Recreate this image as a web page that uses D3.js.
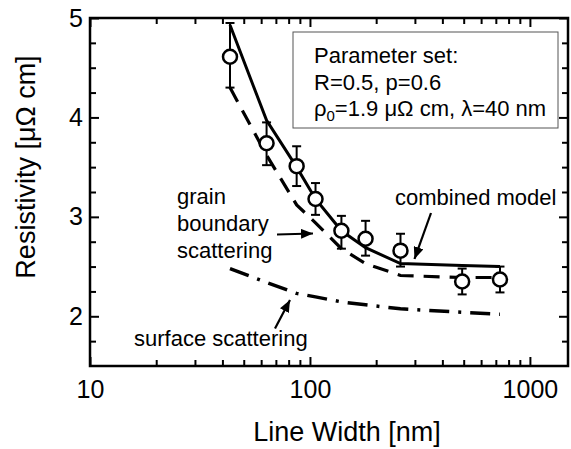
<!DOCTYPE html>
<html>
<head>
<meta charset="utf-8">
<script src="https://cdn.jsdelivr.net/npm/d3@7"></script>
<style>
  html, body { margin: 0; padding: 0; background: #fff; }
  svg { display: block; font-family: "Liberation Sans", Arial, sans-serif; }
</style>
</head>
<body>
<svg id="chart" width="571" height="449"></svg>
<script>
// ---- data ----
const widths        = [43.3, 63.5, 87, 106, 139, 179, 258, 492, 731];          // nm
const measured      = [4.61, 3.74, 3.51, 3.18, 2.86, 2.78, 2.66, 2.35, 2.37];  // µΩ cm
const errLow        = [4.30, 3.52, 3.31, 3.02, 2.68, 2.61, 2.50, 2.22, 2.24];
const errHigh       = [4.95, 3.95, 3.71, 3.34, 3.01, 2.96, 2.83, 2.48, 2.50];
const combined      = [4.93, 3.97, 3.50, 3.18, 2.86, 2.69, 2.53, 2.51, 2.50];
const grainBoundary = [4.30, 3.62, 3.12, 2.94, 2.68, 2.53, 2.41, 2.39, 2.39];
const surface       = [2.48, 2.34, 2.23, 2.195, 2.145, 2.115, 2.075, 2.04, 2.02];

const xMajorTicks = [10, 100, 1000];
const xMinorTicks = [20, 30, 40, 50, 60, 70, 80, 90, 200, 300, 400, 500, 600, 700, 800, 900];
const yMajorTicks = [2, 3, 4, 5];
const yMinorTicks = [1.75, 2.25, 2.5, 2.75, 3.25, 3.5, 3.75, 4.25, 4.5, 4.75];

const xTitle = "Line Width [nm]";
const yTitle = "Resistivity [\u03bc\u03a9 cm]";
const legendLines = ["Parameter set:", "R=0.5, p=0.6"];
const labelCombined = "combined model";
const labelGrain = ["grain", "boundary", "scattering"];
const labelSurface = "surface scattering";

// ---- layout ----
const L = 90, R = 568, T = 18, B = 366;
const svg = d3.select("#chart");

const x = d3.scaleLog().domain([10, 1490]).range([L, R]);
const y = d3.scaleLinear().domain([1.5, 5]).range([B, T]);

// axes (inward ticks)
function styleAxis(g) {
  g.select(".domain").remove();
  g.selectAll("line").attr("stroke", "#000").attr("stroke-width", 2);
  g.selectAll("text").attr("fill", "#000").attr("font-size", 25)
    .attr("font-family", "Liberation Sans, Arial, sans-serif");
}
svg.append("g").attr("transform", `translate(0,${B})`)
  .call(d3.axisBottom(x).tickValues(xMajorTicks).tickSize(-9).tickPadding(14).tickFormat(d3.format("d")))
  .call(styleAxis);
svg.append("g").attr("transform", `translate(0,${B})`)
  .call(d3.axisBottom(x).tickValues(xMinorTicks).tickSize(-6).tickFormat(""))
  .call(styleAxis);
svg.append("g").attr("transform", `translate(0,${T})`)
  .call(d3.axisTop(x).tickValues(xMajorTicks).tickSize(-9).tickFormat(""))
  .call(styleAxis);
svg.append("g").attr("transform", `translate(0,${T})`)
  .call(d3.axisTop(x).tickValues(xMinorTicks).tickSize(-6).tickFormat(""))
  .call(styleAxis);
svg.append("g").attr("transform", `translate(${L},0)`)
  .call(d3.axisLeft(y).tickValues(yMajorTicks).tickSize(-9).tickPadding(7).tickFormat(d3.format("d")))
  .call(styleAxis);
svg.append("g").attr("transform", `translate(${L},0)`)
  .call(d3.axisLeft(y).tickValues(yMinorTicks).tickSize(-6).tickFormat(""))
  .call(styleAxis);
svg.append("g").attr("transform", `translate(${R},0)`)
  .call(d3.axisRight(y).tickValues(yMajorTicks).tickSize(-9).tickFormat(""))
  .call(styleAxis);
svg.append("g").attr("transform", `translate(${R},0)`)
  .call(d3.axisRight(y).tickValues(yMinorTicks).tickSize(-6).tickFormat(""))
  .call(styleAxis);

// frame
svg.append("rect").attr("x", L).attr("y", T).attr("width", R - L).attr("height", B - T)
  .attr("fill", "none").attr("stroke", "#000").attr("stroke-width", 2.5);

// axis titles
svg.append("text").attr("x", 347).attr("y", 441).attr("text-anchor", "middle")
  .attr("font-size", 27).text(xTitle);
svg.append("text").attr("transform", `translate(35,167) rotate(-90)`).attr("text-anchor", "middle")
  .attr("font-size", 27).text(yTitle);

// model curves
const line = d3.line().x(d => x(d[0])).y(d => y(d[1]));
const pts = arr => widths.map((w, i) => [w, arr[i]]);

svg.append("path").attr("d", line(pts(surface))).attr("fill", "none")
  .attr("stroke", "#000").attr("stroke-width", 3.5).attr("stroke-dasharray", "20,9,3,9");
svg.append("path").attr("d", line(pts(grainBoundary))).attr("fill", "none")
  .attr("stroke", "#000").attr("stroke-width", 3.2).attr("stroke-dasharray", "16,10");
svg.append("path").attr("d", line(pts(combined))).attr("fill", "none")
  .attr("stroke", "#000").attr("stroke-width", 3);

// error bars
const eb = svg.append("g").attr("stroke", "#000").attr("stroke-width", 2);
widths.forEach((w, i) => {
  const cx = x(w);
  eb.append("line").attr("x1", cx).attr("x2", cx).attr("y1", y(errLow[i])).attr("y2", y(errHigh[i]));
  eb.append("line").attr("x1", cx - 4.5).attr("x2", cx + 4.5).attr("y1", y(errLow[i])).attr("y2", y(errLow[i]));
  eb.append("line").attr("x1", cx - 4.5).attr("x2", cx + 4.5).attr("y1", y(errHigh[i])).attr("y2", y(errHigh[i]));
});
// data circles
svg.append("g").selectAll("circle").data(pts(measured)).join("circle")
  .attr("cx", d => x(d[0])).attr("cy", d => y(d[1])).attr("r", 7)
  .attr("fill", "#fff").attr("stroke", "#000").attr("stroke-width", 2.5);

// legend box
svg.append("rect").attr("x", 293).attr("y", 32).attr("width", 265).attr("height", 96)
  .attr("fill", "#fff").attr("stroke", "#555").attr("stroke-width", 1);
const lg = svg.append("g").attr("font-size", 22).attr("fill", "#000");
lg.append("text").attr("x", 314).attr("y", 63).text(legendLines[0]);
lg.append("text").attr("x", 314).attr("y", 89.5).text(legendLines[1]);
const t3 = lg.append("text").attr("x", 314).attr("y", 116);
t3.append("tspan").text("\u03c1");
t3.append("tspan").attr("font-size", 15).attr("dy", 5).text("0");
t3.append("tspan").attr("dy", -5).text("=1.9 \u03bc\u03a9 cm, \u03bb=40 nm");

// annotations
const ann = svg.append("g").attr("font-size", 22).attr("fill", "#000");
ann.append("text").attr("x", 395).attr("y", 205).text(labelCombined);
labelGrain.forEach((s, i) => ann.append("text").attr("x", 177).attr("y", 203.5 + i * 27).text(s));
ann.append("text").attr("x", 134).attr("y", 346).text(labelSurface);

// arrows
const defs = svg.append("defs");
defs.append("marker").attr("id", "ah").attr("viewBox", "0 0 12 10").attr("refX", 12).attr("refY", 5)
  .attr("markerWidth", 12).attr("markerHeight", 10).attr("markerUnits", "userSpaceOnUse")
  .attr("orient", "auto")
  .append("path").attr("d", "M0,0 L12,5 L0,10 Z").attr("fill", "#000");
function arrow(x1, y1, x2, y2) {
  svg.append("line").attr("x1", x1).attr("y1", y1).attr("x2", x2).attr("y2", y2)
    .attr("stroke", "#000").attr("stroke-width", 2.2).attr("marker-end", "url(#ah)");
}
arrow(431, 213, 414.5, 259);
arrow(277, 234.5, 313, 233.5);
arrow(275, 328.5, 290, 300);
</script>
</body>
</html>
